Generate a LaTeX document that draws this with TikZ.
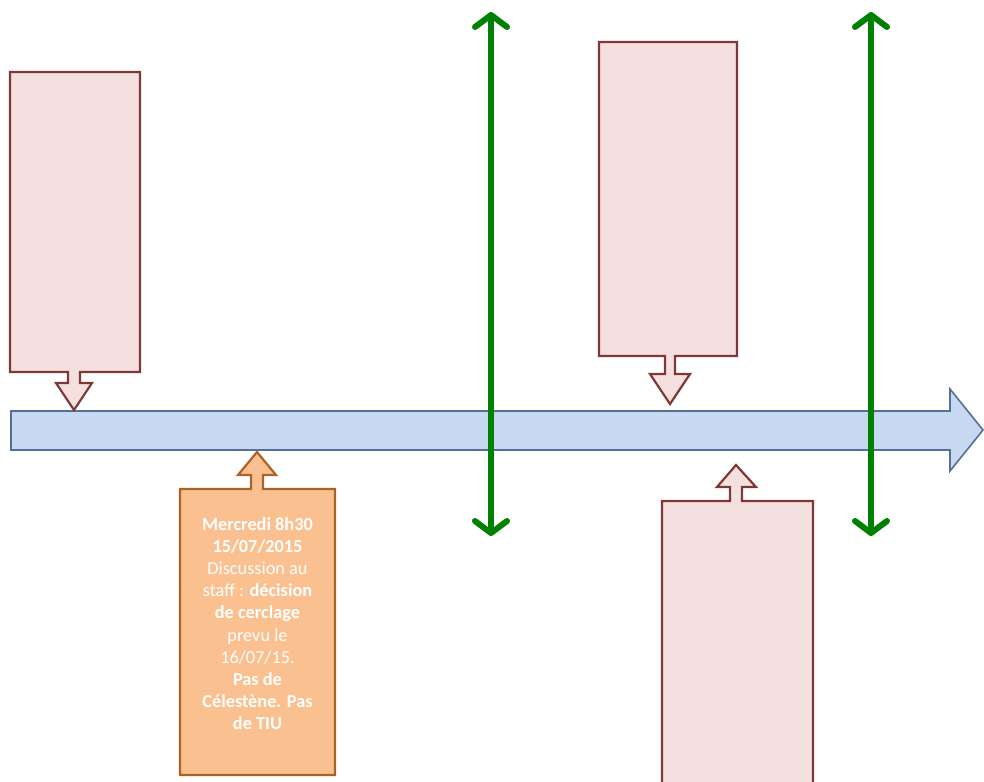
\documentclass[tikz,border=0pt]{standalone}
\usepackage{fontspec}
\setmainfont{Carlito}
\usetikzlibrary{arrows.meta}
\definecolor{pinkfill}{RGB}{243,224,223}
\definecolor{pinkdraw}{RGB}{128,56,54}
\definecolor{orfill}{RGB}{250,192,143}
\definecolor{ordraw}{RGB}{170,100,40}
\definecolor{bluefill}{RGB}{198,217,240}
\definecolor{bluedraw}{RGB}{84,112,150}
\definecolor{grn}{RGB}{0,128,0}
\tikzset{
  pinkcallout/.style={fill=pinkfill, draw=pinkdraw, line width=2.2pt, line join=miter},
  orcallout/.style={fill=orfill, draw=ordraw, line width=2.2pt, line join=miter},
  timeline/.style={fill=bluefill, draw=bluedraw, line width=1.6pt, line join=miter},
  marker/.style={draw=grn, line width=6pt, {Straight Barb[round,length=12pt,width=32pt]}-{Straight Barb[round,length=12pt,width=32pt]}},
  calltext/.style={text=white, align=center, font=\fontsize{18.3}{22.2}\selectfont, inner sep=0pt}
}
\begin{document}
\begin{tikzpicture}[x=1pt,y=-1pt]
\useasboundingbox (0,0) rectangle (984,781);
\clip (0,0) rectangle (984,781);
\fill[white] (0,0) rectangle (984,781);
% main timeline arrow
\draw[timeline] (11,411) -- (950,411) -- (950,389) -- (983,430) -- (950,471) -- (950,450) -- (11,450) -- cycle;
% pink callout 1
\draw[pinkcallout] (10,72) -- (140,72) -- (140,372) -- (80,372) -- (80,383) -- (92,383) -- (74,410) -- (56,383) -- (68,383) -- (68,372) -- (10,372) -- cycle;
% pink callout 2
\draw[pinkcallout] (599,42) -- (737,42) -- (737,356) -- (675,356) -- (675,374) -- (690,374) -- (670,404) -- (650,374) -- (665,374) -- (665,356) -- (599,356) -- cycle;
% orange callout
\draw[orcallout] (180,489) -- (251,489) -- (251,475) -- (238,475) -- (257,452) -- (276,475) -- (263,475) -- (263,489) -- (335,489) -- (335,775) -- (180,775) -- cycle;
% pink callout 4
\draw[pinkcallout] (662,501) -- (730,501) -- (730,487) -- (717,487) -- (736,465) -- (756,487) -- (742,487) -- (742,501) -- (813,501) -- (813,800) -- (662,800) -- cycle;
% text of orange callout
\node[calltext, anchor=north] (otext) at (257.5,517) {%
\textbf{Mercredi 8h30}\\
\textbf{15/07/2015}\\
Discussion au\\
staff : \textbf{décision}\\
\textbf{de cerclage}\\
prevu le\\
16/07/15.\\
\textbf{Pas de}\\
\textbf{Célestène. Pas}\\
\textbf{de TIU}};
% green double arrows
\coordinate (g1t) at (491,12);
\coordinate (g1b) at (491,536);
\coordinate (g2t) at (871,12);
\coordinate (g2b) at (871,536);
\draw[marker] (g1t) -- (g1b);
\draw[marker] (g2t) -- (g2b);
\end{tikzpicture}
\end{document}
